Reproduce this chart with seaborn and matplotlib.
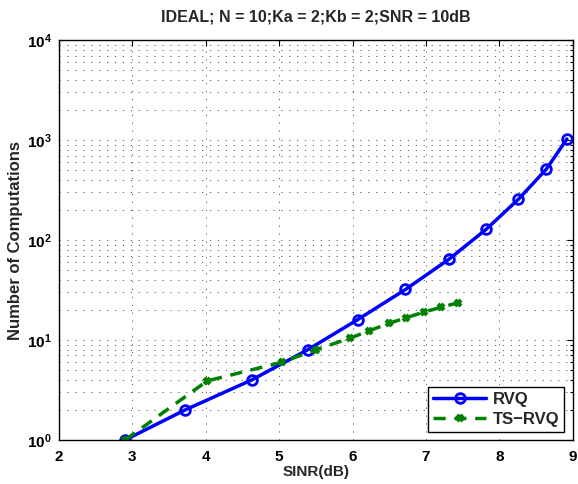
import numpy as np
import pandas as pd
import seaborn as sns
import matplotlib
matplotlib.use("Agg")
import matplotlib.pyplot as plt
from matplotlib.ticker import LogLocator, FixedLocator, NullFormatter

# data
rvq_x = [2.9, 3.72, 4.63, 5.39, 6.07, 6.72, 7.31, 7.82, 8.26, 8.64, 8.92]
rvq_y = [1, 2, 4, 8, 16, 32, 64, 128, 256, 512, 1024]
ts_x = [2.9, 4.02, 5.04, 5.5, 5.96, 6.23, 6.5, 6.73, 6.97, 7.2, 7.43]
ts_y = [1, 3.9, 6.0, 8.0, 10.4, 12.4, 14.7, 16.7, 19.0, 21.2, 23.5]
x_ticks = [2, 3, 4, 5, 6, 7, 8, 9]
y_ticks = [1, 10, 100, 1000, 10000]

df = pd.concat([
    pd.DataFrame({'SINR': rvq_x, 'count': rvq_y, 'method': 'RVQ'}),
    pd.DataFrame({'SINR': ts_x, 'count': ts_y, 'method': 'TS\u2212RVQ'}),
])

sns.set_style("white")
plt.rcParams['font.family'] = ['Liberation Sans', 'DejaVu Sans']
plt.rcParams['font.weight'] = 'bold'
plt.rcParams['mathtext.fontset'] = 'custom'
plt.rcParams['mathtext.rm'] = 'Liberation Sans'
plt.rcParams['mathtext.bf'] = 'Liberation Sans:bold'
plt.rcParams['xtick.direction'] = 'in'
plt.rcParams['ytick.direction'] = 'in'

fig = plt.figure(figsize=(5.78, 4.84), dpi=100)
ax = fig.add_axes([0.102, 0.0909, 0.889, 0.8264])

sns.lineplot(data=df, x='SINR', y='count', hue='method', style='method',
             palette={'RVQ': (0, 0, 1), 'TS\u2212RVQ': (0, 0.5, 0)},
             dashes={'RVQ': '', 'TS\u2212RVQ': (3.5, 2.5)},
             markers={'RVQ': 'o', 'TS\u2212RVQ': 'X'},
             linewidth=2.5, markersize=7, ax=ax, legend=False)
# marker styling
for line in ax.lines[:1]:
    line.set_markerfacecolor('none')
    line.set_markeredgecolor((0, 0, 1))
    line.set_markeredgewidth(2)
for line in ax.lines[1:2]:
    line.set_marker('x')
    line.set_markersize(5)
    line.set_markeredgewidth(3)
    line.set_markeredgecolor((0, 0.5, 0))

ax.set_yscale('log')
ax.set_xlim(2, 9)
ax.set_ylim(1, 10000)
ax.xaxis.set_major_locator(FixedLocator(x_ticks))
ax.set_xticklabels([str(t) for t in x_ticks], fontweight='bold', fontsize=11)
ax.yaxis.set_major_locator(FixedLocator(y_ticks))
ax.set_yticklabels([r'$\mathbf{10^{%d}}$' % int(np.log10(t)) for t in y_ticks], fontsize=11)
ax.yaxis.set_minor_locator(LogLocator(base=10, subs=np.arange(2, 10)))
ax.yaxis.set_minor_formatter(NullFormatter())
ax.tick_params(which='both', top=True, right=True, length=4, width=0.8, colors='black', pad=5)
ax.tick_params(axis='x', pad=7)
ax.tick_params(which='minor', length=2.5)

grid_ls = (0, (1.5, 8))
ax.grid(True, which='major', linestyle=grid_ls, color='0.3', linewidth=0.6)
ax.grid(True, which='minor', axis='y', linestyle=grid_ls, color='0.3', linewidth=0.6)
for s in ax.spines.values():
    s.set_color('black')
    s.set_linewidth(1)

ax.set_xlabel('SINR(dB)', fontweight='bold', fontsize=11, labelpad=1)
ax.set_ylabel('Number of Computations', fontweight='bold', fontsize=12, labelpad=3)
ax.set_title('IDEAL; N = 10;Ka = 2;Kb = 2;SNR = 10dB', fontweight='bold', fontsize=11.5, pad=13)

leg = ax.legend(ax.lines[:2], ['RVQ', 'TS\u2212RVQ'], loc='lower right',
                fancybox=False, edgecolor='black', framealpha=1,
                prop={'weight': 'bold', 'size': 12}, handlelength=3.2,
                numpoints=1, borderaxespad=0.5, borderpad=0.3,
                labelspacing=0.3, handletextpad=0.4)
leg.get_frame().set_linewidth(1)

fig.savefig('out.png', dpi=100)
